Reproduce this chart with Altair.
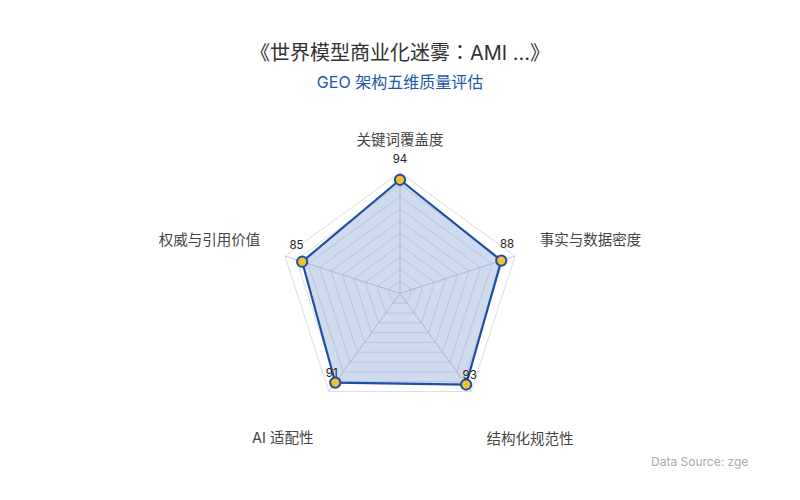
import altair as alt
import pandas as pd

# ---- data ----
categories = ["关键词覆盖度", "事实与数据密度", "结构化规范性", "AI 适配性", "权威与引用价值"]
scores = [94, 88, 93, 91, 85]
grid_levels = [10, 20, 30, 40, 50, 60, 70, 80, 90, 100]
max_value = 100

title_text = "《世界模型商业化迷雾：AMI ...》"
subtitle_text = "GEO 架构五维质量评估"
source_text = "Data Source: zge"

FONT = "Inter, 'Noto Sans CJK SC', sans-serif"
TITLE_FONT = "Inter, 'Noto Sans CJK JP', sans-serif"
N = len(categories)

# ---- tables built from the arrays ----
poly_df = pd.DataFrame({
    "idx": list(range(N + 1)),
    "value": [scores[i % N] for i in range(N + 1)],
})
pts_df = pd.DataFrame({"idx": list(range(N)), "value": scores, "category": categories})
ring_df = pd.DataFrame(
    [{"level": lv, "idx": i} for lv in grid_levels for i in range(N + 1)]
)
spoke_df = pd.DataFrame({"idx": list(range(N)), "level": [max_value] * N})

# pixel geometry
PX_PER_UNIT = 1.21
W, H = 784, 384
CX, CY = 392, 185.5
xdom = [-CX / PX_PER_UNIT, (W - CX) / PX_PER_UNIT]
ydom = [-(H - CY) / PX_PER_UNIT, CY / PX_PER_UNIT]

xs = alt.Scale(domain=xdom, nice=False, zero=False)
ys = alt.Scale(domain=ydom, nice=False, zero=False)


def X(field):
    return alt.X(field, type="quantitative", scale=xs, axis=None)


def Y(field):
    return alt.Y(field, type="quantitative", scale=ys, axis=None)


ang = f"datum.idx * 2 * PI / {N}"

rings = alt.Chart(ring_df).transform_calculate(
    x=f"datum.level * sin({ang})", y=f"datum.level * cos({ang})"
).mark_line(stroke="#dcdde3", strokeWidth=1).encode(
    x=X("x"), y=Y("y"), detail="level:N", order="idx:Q"
)

spokes = alt.Chart(spoke_df).transform_calculate(
    x0="0", y0="0",
    x=f"datum.level * sin({ang})", y=f"datum.level * cos({ang})"
).mark_rule(stroke="#c4c6d0", strokeWidth=1).encode(
    x=X("x0"), y=Y("y0"), x2="x:Q", y2="y:Q"
)

poly = alt.Chart(poly_df).transform_calculate(
    x=f"datum.value * sin({ang})", y=f"datum.value * cos({ang})"
).mark_line(
    stroke="#1e4fa3", strokeWidth=2.2, fill="#7f9fd3", fillOpacity=0.38,
    strokeJoin="round"
).encode(x=X("x"), y=Y("y"), order="idx:Q")

points = alt.Chart(pts_df).transform_calculate(
    x=f"datum.value * sin({ang})", y=f"datum.value * cos({ang})"
).mark_point(
    filled=True, fill="#f2c12e", stroke="#1e4fa3", strokeWidth=2,
    size=105, opacity=1
).encode(x=X("x"), y=Y("y"))

value_labels = alt.Chart(pts_df).transform_calculate(
    x=f"(datum.value + 5) * sin({ang})", y=f"(datum.value + 5) * cos({ang})"
).mark_text(
    font=FONT, fontSize=11.5, color="#222222", dy=-13.5, baseline="middle"
).encode(x=X("x"), y=Y("y"), text="value:Q")

LABEL_R = 121.5


def cat_layer(idxs, align, dy):
    return alt.Chart(pts_df).transform_filter(
        alt.FieldOneOfPredicate(field="idx", oneOf=idxs)
    ).transform_calculate(
        x=f"{LABEL_R} * sin({ang})", y=f"{LABEL_R} * cos({ang})"
    ).mark_text(
        font=FONT, fontSize=14.5, color="#444444", align=align,
        baseline="middle", dy=dy
    ).encode(x=X("x"), y=Y("y"), text="category:N")


cat_labels = alt.layer(
    cat_layer([0], "center", -5.5),
    cat_layer([1], "left", -7.5),
    cat_layer([4], "right", -7.5),
    cat_layer([2], "left", 28),
    cat_layer([3], "right", 27),
)

source = alt.Chart(pd.DataFrame({"t": [source_text]})).mark_text(
    font=FONT, fontSize=12, color="#aaaaaa", align="left", baseline="middle"
).encode(x=alt.value(643), y=alt.value(354), text="t:N")

chart = alt.layer(
    rings, spokes, poly, points, value_labels, cat_labels, source
).properties(
    width=W, height=H,
    background="white",
    autosize=alt.AutoSizeParams(type="none"),
    padding={"top": 100, "left": 0, "right": 0, "bottom": 0},
    title=alt.TitleParams(
        text=title_text, subtitle=subtitle_text, anchor="middle", frame="group",
        font=TITLE_FONT, fontSize=20, fontWeight="normal", color="#333333",
        subtitleFont=FONT, subtitleFontSize=16, subtitleColor="#2356a8",
        subtitlePadding=11, offset=17,
    ),
).configure_view(stroke="transparent", strokeWidth=0)

chart.save("out.html", embed_options={"renderer": "svg", "actions": False})
